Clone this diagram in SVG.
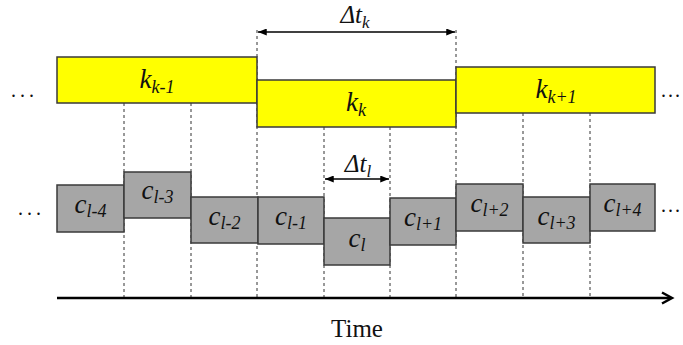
<svg xmlns="http://www.w3.org/2000/svg" width="683" height="345" viewBox="0 0 683 345">
<defs>
<style>
.y{fill:#FFFF00;stroke:#3a3a3a;stroke-width:1.5}
.g{fill:#A6A6A6;stroke:#3a3a3a;stroke-width:1.5}
.d{stroke:#333;stroke-width:1;stroke-dasharray:3,3;fill:none}
.a{stroke:#000;stroke-width:1.3;fill:none}
.lbl{font-family:"Liberation Serif","DejaVu Serif",serif;font-style:italic;fill:#111;text-anchor:middle}
.dots{font-family:"Liberation Serif","DejaVu Serif",serif;font-size:20px;fill:#111;letter-spacing:4px}
.dr{font-family:"Liberation Serif","DejaVu Serif",serif;font-size:20px;fill:#111;letter-spacing:2px}
</style>
<marker id="ah" viewBox="0 0 10 8" refX="10" refY="4" markerWidth="9" markerHeight="7" markerUnits="userSpaceOnUse" orient="auto-start-reverse">
<path d="M0,0 L10,4 L0,8 Z" fill="#000"/>
</marker>
</defs>
<rect width="683" height="345" fill="#fff"/>
<g id="connectors">
<line class="d" x1="124" y1="103" x2="124" y2="297"/>
<line class="d" x1="191" y1="103" x2="191" y2="297"/>
<line class="d" x1="257" y1="30" x2="257" y2="297"/>
<line class="d" x1="324" y1="127" x2="324" y2="297"/>
<line class="d" x1="390" y1="127" x2="390" y2="297"/>
<line class="d" x1="456" y1="30" x2="456" y2="297"/>
<line class="d" x1="523" y1="113" x2="523" y2="297"/>
<line class="d" x1="590" y1="113" x2="590" y2="297"/>
<line class="a" x1="258" y1="32" x2="455" y2="32" marker-start="url(#ah)" marker-end="url(#ah)"/>
<line class="a" x1="325" y1="179" x2="389" y2="179" marker-start="url(#ah)" marker-end="url(#ah)"/>
<line x1="57" y1="298" x2="671" y2="298" stroke="#000" stroke-width="2.5"/>
<polyline points="662,292.5 672,298 662,303.5" fill="none" stroke="#000" stroke-width="2.5"/>
</g>
<g id="kk-1"><rect class="y" x="57" y="57" width="200" height="46"/><text class="lbl" x="157" y="88" font-size="27">k<tspan font-size="18" dy="5">k-1</tspan></text></g>
<g id="kk"><rect class="y" x="257" y="80" width="199" height="47"/><text class="lbl" x="356" y="111" font-size="27">k<tspan font-size="18" dy="5">k</tspan></text></g>
<g id="kk+1"><rect class="y" x="456" y="67" width="199" height="46"/><text class="lbl" x="556" y="98" font-size="27">k<tspan font-size="18" dy="5">k+1</tspan></text></g>
<g id="cl-4"><rect class="g" x="57" y="185" width="67" height="47"/><text class="lbl" x="90.5" y="213" font-size="27">c<tspan font-size="18" dy="4">l-4</tspan></text></g>
<g id="cl-3"><rect class="g" x="124" y="172" width="67" height="46"/><text class="lbl" x="157.5" y="199" font-size="27">c<tspan font-size="18" dy="4">l-3</tspan></text></g>
<g id="cl-2"><rect class="g" x="191" y="197" width="67" height="46"/><text class="lbl" x="224.5" y="225" font-size="27">c<tspan font-size="18" dy="4">l-2</tspan></text></g>
<g id="cl-1"><rect class="g" x="258" y="197" width="66" height="47"/><text class="lbl" x="291" y="225" font-size="27">c<tspan font-size="18" dy="4">l-1</tspan></text></g>
<g id="cl"><rect class="g" x="324" y="218" width="66" height="47"/><text class="lbl" x="357" y="247" font-size="27">c<tspan font-size="18" dy="4">l</tspan></text></g>
<g id="cl+1"><rect class="g" x="390" y="198" width="66" height="47"/><text class="lbl" x="423" y="226" font-size="27">c<tspan font-size="18" dy="4">l+1</tspan></text></g>
<g id="cl+2"><rect class="g" x="456" y="184" width="67" height="47"/><text class="lbl" x="489.5" y="212" font-size="27">c<tspan font-size="18" dy="4">l+2</tspan></text></g>
<g id="cl+3"><rect class="g" x="523" y="197" width="67" height="46"/><text class="lbl" x="556.5" y="225" font-size="27">c<tspan font-size="18" dy="4">l+3</tspan></text></g>
<g id="cl+4"><rect class="g" x="590" y="184" width="65" height="47"/><text class="lbl" x="622.5" y="212" font-size="27">c<tspan font-size="18" dy="4">l+4</tspan></text></g>
<g id="labels">
<text class="lbl" x="355" y="23" font-size="25">Δt<tspan font-size="17" dy="5">k</tspan></text>
<text class="lbl" x="358" y="172" font-size="25">Δt<tspan font-size="17" dy="5">l</tspan></text>
<text x="357" y="337" font-family="'Liberation Serif','DejaVu Serif',serif" font-size="25" fill="#111" text-anchor="middle">Time</text>
<text class="dots" x="11" y="97">...</text>
<text class="dots" x="18" y="215">...</text>
<text class="dr" x="661" y="97">...</text>
<text class="dr" x="661" y="212">...</text>
</g>
</svg>
